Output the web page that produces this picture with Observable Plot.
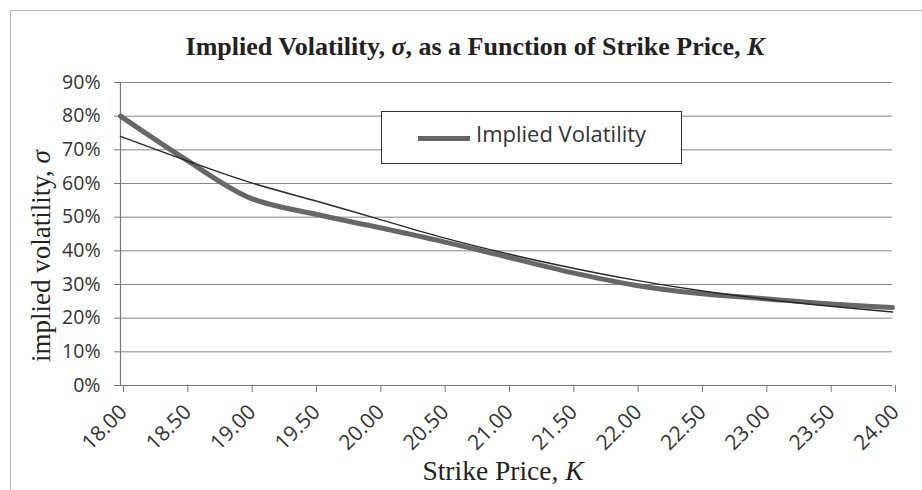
<!DOCTYPE html>
<html>
<head>
<meta charset="utf-8">
<script src="https://cdn.jsdelivr.net/npm/d3@7"></script>
<script src="https://cdn.jsdelivr.net/npm/@observablehq/plot@0.6"></script>
<style>
  html, body { margin: 0; padding: 0; background: #fff; }
  #wrap { position: relative; width: 922px; height: 490px; overflow: hidden; }
  #frame { position: absolute; left: 10px; top: 10px; width: 930px; height: 500px; border: 1px solid #b5b5b5; box-sizing: border-box; }
  #legend { position: absolute; left: 381px; top: 111px; width: 301px; height: 53px; box-sizing: border-box;
            border: 1.5px solid #333; background: #fff; font-family: "Open Sans", sans-serif; font-size: 22px; color: #333; }
  #legend .swatch { position: absolute; left: 36px; top: 24px; width: 52px; height: 4.5px; background: #666; }
  #legend .lab { position: absolute; left: 94px; top: 6px; line-height: 30px; white-space: nowrap; }
</style>
</head>
<body>
<div id="wrap">
  <div id="frame"></div>
  <div id="chart"></div>
  <div id="legend"><div class="swatch"></div><div class="lab">Implied Volatility</div></div>
</div>
<script>
const strikes    = [18.00, 18.50, 19.00, 19.50, 20.00, 20.50, 21.00, 21.50, 22.00, 22.50, 23.00, 23.50, 24.00];
const impliedVol = [0.800, 0.673, 0.558, 0.510, 0.470, 0.428, 0.382, 0.336, 0.298, 0.273, 0.258, 0.243, 0.232];
const trendVol   = [0.740, 0.670, 0.604, 0.550, 0.495, 0.440, 0.392, 0.350, 0.313, 0.282, 0.257, 0.236, 0.218];
const xTicks = strikes;
const yTicks = [0, 0.1, 0.2, 0.3, 0.4, 0.5, 0.6, 0.7, 0.8, 0.9];

const data = strikes.map((k, i) => ({K: k, iv: impliedVol[i], trend: trendVol[i]}));

const chart = Plot.plot({
  width: 922,
  height: 490,
  marginLeft: 120,
  marginRight: 30,
  marginTop: 82,
  marginBottom: 105,
  style: {fontFamily: "'Open Sans', sans-serif", color: "#333", background: "transparent"},
  x: {domain: [18, 24]},
  y: {domain: [0, 0.9]},
  marks: [
    Plot.ruleY(yTicks.slice(1), {x1: 18, x2: 24, stroke: "#858585", strokeWidth: 1}),
    Plot.ruleY([0], {x1: 18, x2: 24, stroke: "#777", strokeWidth: 1.2}),
    Plot.ruleX([18], {y1: 0, y2: 0.9, stroke: "#777", strokeWidth: 1.2}),
    Plot.axisY({ticks: yTicks, tickFormat: d3.format(".0%"), tickSize: 6, tickPadding: 14, fontSize: 19.5, label: null, stroke: "#777"}),
    Plot.axisX({ticks: xTicks, tickFormat: d3.format(".2f"), tickRotate: -45, tickSize: 7, tickPadding: 16, dx: 3, fontSize: 21, label: null, stroke: "#777"}),
    Plot.line(data, {x: "K", y: "iv", curve: "catmull-rom", stroke: "#676767", strokeWidth: 5}),
    Plot.line(data, {x: "K", y: "trend", curve: "catmull-rom", stroke: "#2a2a2a", strokeWidth: 1.5})
  ]
});
document.getElementById("chart").appendChild(chart);

const svg = d3.select(chart);
const serif = "'Liberation Serif', 'Times New Roman', serif";
// title
const t = svg.append("text").attr("x", 475).attr("y", 55).attr("text-anchor", "middle")
  .style("font-family", serif).style("font-size", "26px")
  .style("font-weight", "bold").attr("fill", "#222");
t.append("tspan").text("Implied Volatility, ");
t.append("tspan").style("font-style", "italic").text("σ");
t.append("tspan").text(", as a Function of Strike Price, ");
t.append("tspan").style("font-style", "italic").text("K");
// x label
const xl = svg.append("text").attr("x", 503).attr("y", 480).attr("text-anchor", "middle")
  .style("font-family", serif).style("font-size", "27.5px").attr("fill", "#222");
xl.append("tspan").text("Strike Price, ");
xl.append("tspan").style("font-style", "italic").text("K");
// y label
const yl = svg.append("text").attr("transform", "translate(50,256) rotate(-90)").attr("text-anchor", "middle")
  .style("font-family", serif).style("font-size", "27px").attr("fill", "#222");
yl.append("tspan").text("implied volatility, ");
yl.append("tspan").style("font-style", "italic").text("σ");
</script>
</body>
</html>
